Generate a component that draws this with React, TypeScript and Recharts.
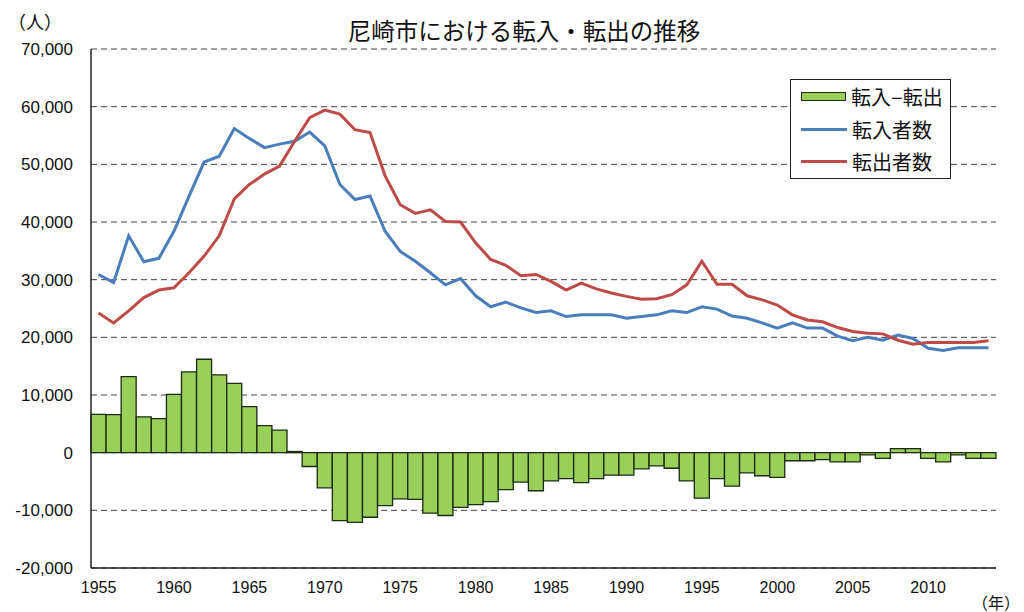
import { ComposedChart, Bar, Line, XAxis, YAxis, CartesianGrid } from "recharts";

const years = [
  1955, 1956, 1957, 1958, 1959, 1960, 1961, 1962, 1963, 1964,
  1965, 1966, 1967, 1968, 1969, 1970, 1971, 1972, 1973, 1974,
  1975, 1976, 1977, 1978, 1979, 1980, 1981, 1982, 1983, 1984,
  1985, 1986, 1987, 1988, 1989, 1990, 1991, 1992, 1993, 1994,
  1995, 1996, 1997, 1998, 1999, 2000, 2001, 2002, 2003, 2004,
  2005, 2006, 2007, 2008, 2009, 2010, 2011, 2012, 2013, 2014,
];

// 転入者数
const inflow = [
  30900, 29500, 37600, 33100, 33700, 38400, 44500, 50400, 51400, 56200,
  54500, 52900, 53500, 54000, 55600, 53200, 46500, 43900, 44500, 38400,
  34900, 33200, 31200, 29100, 30200, 27200, 25300, 26100, 25100, 24300,
  24600, 23600, 23900, 23900, 23900, 23300, 23600, 23900, 24600, 24300,
  25300, 24900, 23700, 23300, 22500, 21600, 22500, 21600, 21600, 20200,
  19400, 20000, 19500, 20400, 19800, 18100, 17700, 18200, 18200, 18200,
];

// 転出者数
const outflow = [
  24200, 22500, 24600, 26900, 28200, 28600, 31200, 34100, 37600, 44000,
  46500, 48300, 49700, 54000, 58100, 59400, 58700, 56000, 55500, 48000,
  43000, 41500, 42100, 40100, 40000, 36400, 33500, 32500, 30700, 30900,
  29700, 28200, 29400, 28400, 27700, 27100, 26600, 26700, 27400, 29100,
  33200, 29200, 29200, 27200, 26500, 25600, 23900, 23000, 22700, 21700,
  21000, 20700, 20600, 19500, 18800, 19100, 19100, 19100, 19100, 19400,
];

// 転入−転出
const net = [
  6650, 6600, 13200, 6200, 5900, 10100, 14000, 16200, 13500, 12000,
  8000, 4700, 3900, 200, -2400, -6100, -11800, -12100, -11200, -9200,
  -8000, -8100, -10500, -10900, -9500, -9000, -8500, -6400, -5100, -6600,
  -4900, -4500, -5200, -4500, -3900, -3900, -2800, -2300, -2700, -4900,
  -7900, -4500, -5800, -3500, -4000, -4300, -1400, -1400, -1200, -1600,
  -1600, -400, -1000, 700, 700, -1000, -1600, -400, -1000, -1000,
];

const xTicks = [1955, 1960, 1965, 1970, 1975, 1980, 1985, 1990, 1995, 2000, 2005, 2010];
const yTicks = [-20000, -10000, 0, 10000, 20000, 30000, 40000, 50000, 60000, 70000];

const data = years.map((year, i) => ({
  year,
  net: net[i],
  inflow: inflow[i],
  outflow: outflow[i],
}));

const FONT = "'Liberation Sans', 'Noto Sans CJK JP', sans-serif";
const GREEN = "#98d05a";
const BAR_EDGE = "#1d2a12";
const BLUE = "#4a7ebb";
const RED = "#be4b48";

const legendItems = [
  { name: "転入−転出", color: GREEN, kind: "bar" },
  { name: "転入者数", color: BLUE, kind: "line" },
  { name: "転出者数", color: RED, kind: "line" },
];

function ChartLegend() {
  return (
    <div
      style={{
        position: "absolute",
        left: 790,
        top: 79,
        width: 161,
        height: 100,
        border: "1.5px solid #222",
        background: "#fff",
        boxSizing: "border-box",
        padding: "0 0 0 10px",
        display: "flex",
        flexDirection: "column",
        justifyContent: "center",
      }}
    >
      {legendItems.map((it) => (
        <div key={it.name} style={{ display: "flex", alignItems: "center", height: 33, whiteSpace: "nowrap" }}>
          {it.kind === "bar" ? (
            <span
              style={{
                display: "inline-block",
                width: 43,
                height: 7,
                background: GREEN,
                border: `1.5px solid ${BAR_EDGE}`,
              }}
            />
          ) : (
            <span style={{ display: "inline-block", width: 46, height: 3, background: it.color }} />
          )}
          <span style={{ marginLeft: 5, fontSize: 20, color: "#111" }}>{it.name}</span>
        </div>
      ))}
    </div>
  );
}

export default function App() {
  return (
    <div
      style={{
        position: "absolute",
        left: 0,
        top: 0,
        width: 1024,
        height: 612,
        background: "#fff",
        fontFamily: FONT,
        overflow: "hidden",
      }}
    >
      <ComposedChart
        width={1024}
        height={612}
        data={data}
        margin={{ top: 49, right: 28, bottom: 0, left: 0 }}
        barCategoryGap={0}
        barGap={0}
      >
        <CartesianGrid vertical={false} stroke="#444" strokeDasharray="6 4" />
        <XAxis
          dataKey="year"
          height={44}
          ticks={xTicks}
          interval={0}
          tickLine={false}
          tickSize={6}
          tickMargin={8}
          axisLine={{ stroke: "#222", strokeWidth: 1.5 }}
          tick={{ fontSize: 16, fill: "#111", fontFamily: FONT }}
        />
        <XAxis xAxisId="top" dataKey="year" orientation="top" height={0} tick={false} tickLine={false} axisLine={{ stroke: "#222", strokeWidth: 1.5 }} />
        <YAxis
          width={91}
          domain={[-20000, 70000]}
          ticks={yTicks}
          interval={0}
          tickLine={false}
          tickSize={6}
          tickMargin={12}
          axisLine={{ stroke: "#222", strokeWidth: 1.5 }}
          tickFormatter={(v: number) => v.toLocaleString("en-US")}
          tick={{ fontSize: 17, fill: "#111", fontFamily: FONT }}
        />
        <YAxis yAxisId="right" orientation="right" width={0} domain={[-20000, 70000]} tick={false} tickLine={false} axisLine={{ stroke: "#222", strokeWidth: 1.5 }} />
        <Bar
          dataKey="net"
          name="転入−転出"
          fill={GREEN}
          stroke={BAR_EDGE}
          strokeWidth={1.3}
          isAnimationActive={false}
        />
        <Line
          type="linear"
          dataKey="inflow"
          name="転入者数"
          stroke={BLUE}
          strokeWidth={3}
          dot={false}
          isAnimationActive={false}
        />
        <Line
          type="linear"
          dataKey="outflow"
          name="転出者数"
          stroke={RED}
          strokeWidth={3}
          dot={false}
          isAnimationActive={false}
        />
      </ComposedChart>
      <div
        style={{
          position: "absolute",
          left: 0,
          width: 1048,
          top: 18,
          textAlign: "center",
          fontSize: 23.5,
          color: "#111",
          lineHeight: "28px",
        }}
      >
        尼崎市における転入・転出の推移
      </div>
      <div style={{ position: "absolute", left: 8, top: 8, fontSize: 18, color: "#111" }}>（人）</div>
      <div style={{ position: "absolute", left: 972, top: 590, fontSize: 16, color: "#111", whiteSpace: "nowrap" }}>（年）</div>
      <ChartLegend />
    </div>
  );
}
